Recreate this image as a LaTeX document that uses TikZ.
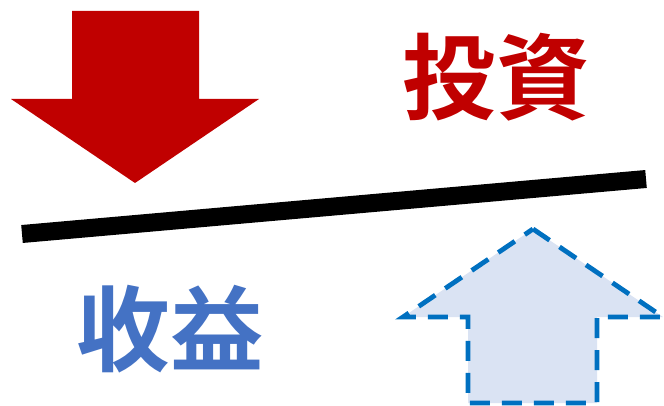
\documentclass[tikz,border=0pt]{standalone}
\usepackage{fontspec}
\newfontfamily\cjk{Noto Sans CJK JP Bold}
\definecolor{darkred}{HTML}{C00000}
\definecolor{textblue}{HTML}{4472C4}
\definecolor{dashblue}{HTML}{0070C0}
\definecolor{lightfill}{HTML}{DAE3F3}
\begin{document}
\begin{tikzpicture}[x=0.75pt,y=-0.75pt,
  bigtext/.style={font=\cjk\fontsize{70}{80}\selectfont, inner sep=0pt}]
\useasboundingbox (0,0) rectangle (664,406);
% down arrow
\fill[darkred] (72,11) -- (199,11) -- (199,99) -- (259,99) -- (135,183) -- (11,99) -- (72,99) -- cycle;
% up arrow
\filldraw[fill=lightfill, draw=dashblue, line width=3.6pt, dash pattern=on 15pt off 9pt]
  (533,229) -- (663,317) -- (597,317) -- (597,403) -- (468,403) -- (468,317) -- (403,317) -- cycle;
% line
\coordinate (L) at (22,234);
\coordinate (R) at (646,179);
\draw[line width=13.5pt, black] (L) -- (R);
% texts
\node[bigtext, text=darkred] (inv) at (496,77) {投資};
\node[bigtext, text=textblue] (ret) at (170,329) {收益};
\end{tikzpicture}
\end{document}
